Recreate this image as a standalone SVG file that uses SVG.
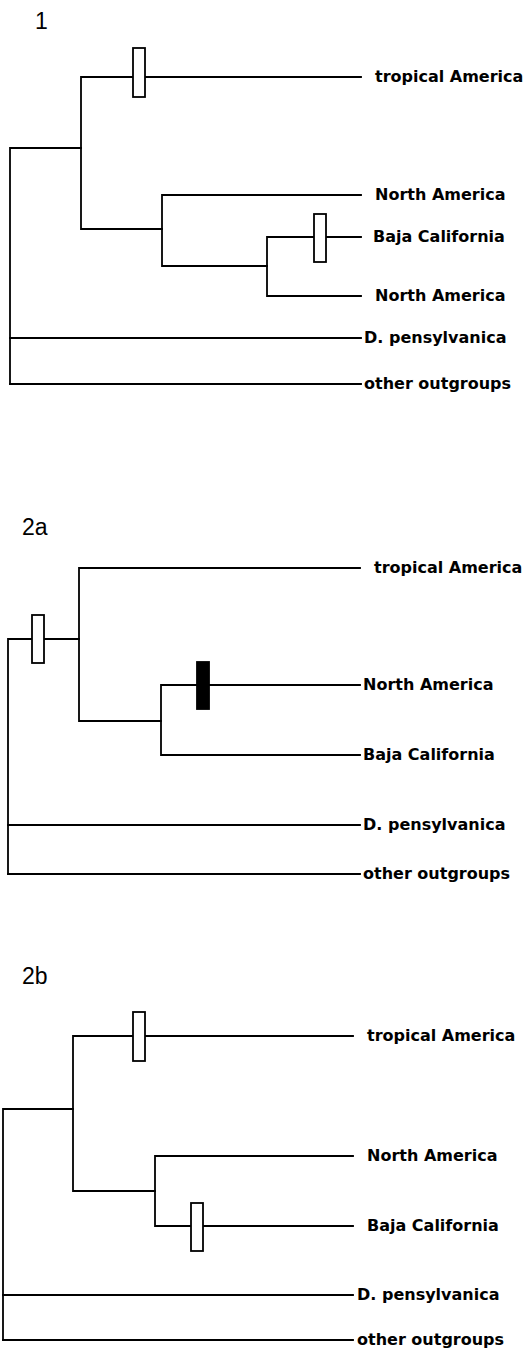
<svg xmlns="http://www.w3.org/2000/svg" width="527" height="1348" viewBox="0 0 527 1348">
<style>
.br{fill:none;stroke:#000;stroke-width:1.8;stroke-linecap:square;stroke-linejoin:miter}
.bar{fill:#fff;stroke:#000;stroke-width:1.8}
.barf{fill:#000;stroke:#000;stroke-width:1.8}
.lb{font-family:"DejaVu Sans",sans-serif;font-weight:bold;font-size:16px;fill:#000}
.tt{font-family:"Liberation Sans",Arial,sans-serif;font-size:23px;fill:#000}
</style>
<rect width="527" height="1348" fill="#fff"/>

<!-- Tree 1 -->
<g id="tree1">
<text class="tt" x="35" y="29">1</text>
<g id="t1-connectors">
<path class="br" d="M10,384 V148 H81"/>
<path class="br" d="M361,77 H81 V229 H162"/>
<path class="br" d="M361,195 H162 V266 H267"/>
<path class="br" d="M361,237 H267 V296 H361"/>
<path class="br" d="M10,338 H361"/>
<path class="br" d="M10,384 H361"/>
</g>
<g id="t1-bar-trop"><rect class="bar" x="133" y="48" width="12" height="49"/></g>
<g id="t1-bar-baja"><rect class="bar" x="314" y="214" width="12" height="48"/></g>
<g id="t1-trop"><text class="lb" x="375" y="82">tropical America</text></g>
<g id="t1-na1"><text class="lb" x="375" y="200">North America</text></g>
<g id="t1-baja"><text class="lb" x="373" y="242">Baja California</text></g>
<g id="t1-na2"><text class="lb" x="375" y="301">North America</text></g>
<g id="t1-dpen"><text class="lb" x="364" y="343">D. pensylvanica</text></g>
<g id="t1-out"><text class="lb" x="364" y="389">other outgroups</text></g>
</g>

<!-- Tree 2a -->
<g id="tree2a">
<text class="tt" x="22" y="535">2a</text>
<g id="t2a-connectors">
<path class="br" d="M8,874 V639 H79"/>
<path class="br" d="M360,568 H79 V721 H161"/>
<path class="br" d="M360,685 H161 V755 H360"/>
<path class="br" d="M8,825 H360"/>
<path class="br" d="M8,874 H360"/>
</g>
<g id="t2a-bar-root"><rect class="bar" x="32" y="615" width="12" height="48"/></g>
<g id="t2a-bar-na"><rect class="barf" x="197" y="662" width="12" height="47"/></g>
<g id="t2a-trop"><text class="lb" x="374" y="573">tropical America</text></g>
<g id="t2a-na"><text class="lb" x="363" y="690">North America</text></g>
<g id="t2a-baja"><text class="lb" x="363" y="760">Baja California</text></g>
<g id="t2a-dpen"><text class="lb" x="363" y="830">D. pensylvanica</text></g>
<g id="t2a-out"><text class="lb" x="363" y="879">other outgroups</text></g>
</g>

<!-- Tree 2b -->
<g id="tree2b">
<text class="tt" x="22" y="984">2b</text>
<g id="t2b-connectors">
<path class="br" d="M3,1340 V1109 H73"/>
<path class="br" d="M353,1036 H73 V1191 H155"/>
<path class="br" d="M353,1156 H155 V1226 H353"/>
<path class="br" d="M3,1295 H353"/>
<path class="br" d="M3,1340 H353"/>
</g>
<g id="t2b-bar-trop"><rect class="bar" x="133" y="1012" width="12" height="49"/></g>
<g id="t2b-bar-baja"><rect class="bar" x="191" y="1203" width="12" height="48"/></g>
<g id="t2b-trop"><text class="lb" x="367" y="1041">tropical America</text></g>
<g id="t2b-na"><text class="lb" x="367" y="1161">North America</text></g>
<g id="t2b-baja"><text class="lb" x="367" y="1231">Baja California</text></g>
<g id="t2b-dpen"><text class="lb" x="357" y="1300">D. pensylvanica</text></g>
<g id="t2b-out"><text class="lb" x="357" y="1345">other outgroups</text></g>
</g>
</svg>
